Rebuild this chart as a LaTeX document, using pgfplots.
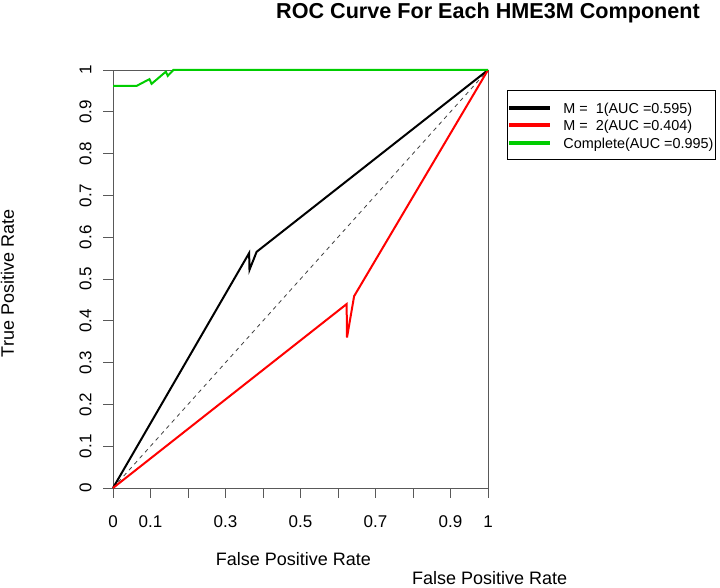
\documentclass[border=0pt]{standalone}
\usepackage{fontspec}
\setmainfont{Liberation Sans}
\usepackage{pgfplots}
\pgfplotsset{compat=1.18}
\definecolor{rgreen}{RGB}{0,205,0}
\definecolor{rred}{RGB}{255,0,0}
\definecolor{framegray}{gray}{0.35}
\begin{document}
\begin{tikzpicture}[x=1pt,y=1pt]
\useasboundingbox (0,0) rectangle (720,588);
\begin{axis}[
  at={(113pt,100pt)}, anchor=south west,
  scale only axis, width=375pt, height=418pt,
  xmin=0, xmax=1, ymin=0, ymax=1,
  clip=false,
  axis line style={framegray, line width=0.8pt},
  tick style={framegray, line width=0.8pt},
  tick align=outside, major tick length=10pt,
  xtick pos=bottom, ytick pos=left,
  xtick={0,0.1,0.2,0.3,0.4,0.5,0.6,0.7,0.8,0.9,1},
  xticklabels={0,0.1,,0.3,,0.5,,0.7,,0.9,1},
  ytick={0,0.1,0.2,0.3,0.4,0.5,0.6,0.7,0.8,0.9,1},
  yticklabels={0,0.1,0.2,0.3,0.4,0.5,0.6,0.7,0.8,0.9,1},
  /pgf/number format/assume math mode=true,
  ticklabel style={font=\fontsize{17}{20}\selectfont, inner sep=0pt},
  xticklabel style={anchor=base},
  yticklabel style={rotate=90, anchor=base},
  xticklabel shift=30pt,
  yticklabel shift=11.5pt,
  xlabel={False Positive Rate},
  xlabel style={at={(axis description cs:0.481,-0.1866)}, anchor=base, font=\fontsize{18}{21}\selectfont, inner sep=0pt},
  ylabel={True Positive Rate},
  ylabel style={at={(axis description cs:-0.2640,0.489)}, anchor=base, font=\fontsize{18}{21}\selectfont, inner sep=0pt},
  title={ROC Curve For Each HME3M Component},
  title style={at={(axis description cs:1.0,1.1080)}, anchor=base, font=\bfseries\fontsize{21.6}{26}\selectfont, inner sep=0pt},
  legend style={at={(axis description cs:1.0507,0.9522)}, anchor=north west,
    draw=black, line width=0.8pt, fill=white,
    font=\fontsize{14.4}{17}\selectfont,
    inner xsep=2pt, inner ysep=10pt, row sep=3pt, column sep=13pt,
    nodes={inner sep=0pt, text height=13pt, text depth=1.5pt}},
  legend cell align=left,
  legend image code/.code={\path (0pt,-1pt) rectangle (39pt,1pt); \draw[#1] (11pt,0pt) -- (39pt,0pt);},
]
\addplot[black!75, dashed, line width=0.8pt, dash pattern=on 4pt off 4pt, forget plot] coordinates {(0,0) (1,1)};
\addplot[black, line width=2pt] coordinates {(0,0) (0.363,0.562) (0.364,0.522) (0.383,0.565) (1,1)};
\addlegendentry{M = \ 1(AUC =0.595)}
\addplot[rred, line width=2pt] coordinates {(0,0) (0.623,0.440) (0.624,0.360) (0.643,0.459) (1,1)};
\addlegendentry{M = \ 2(AUC =0.404)}
\addplot[rgreen, line width=2pt] coordinates {(0,0.962) (0.063,0.962) (0.097,0.978) (0.103,0.967) (0.141,0.996) (0.146,0.986) (0.161,1) (1,1)};
\addlegendentry{Complete(AUC =0.995)}
\node[anchor=base, font=\fontsize{18}{21}\selectfont, inner sep=0pt] at (axis description cs:1.0045,-0.2300) {False Positive Rate};
\end{axis}
\end{tikzpicture}
\end{document}
